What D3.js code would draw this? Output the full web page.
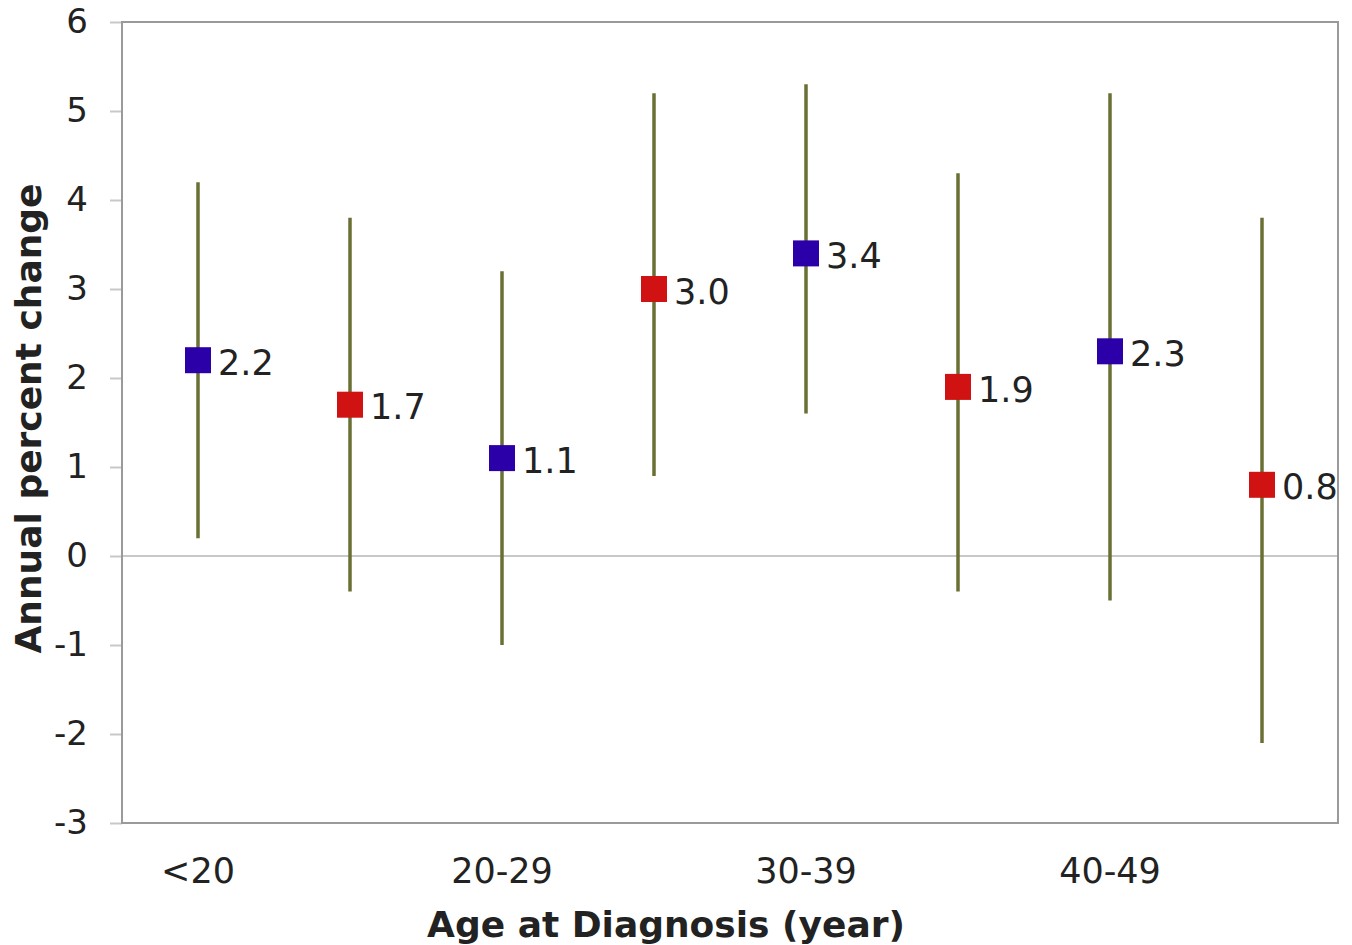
<!DOCTYPE html>
<html>
<head>
<meta charset="utf-8">
<script src="https://cdn.jsdelivr.net/npm/d3@7"></script>
<style>
  body { margin: 0; background: #fff; }
  text { font-family: "DejaVu Sans", Verdana, sans-serif; fill: #222; }
</style>
</head>
<body>
<div id="chart"></div>
<script>
// data
const slots = ["<20 a", "<20 b", "20-29 a", "20-29 b", "30-39 a", "30-39 b", "40-49 a", "40-49 b"];
const groupLabels = ["<20", "", "20-29", "", "30-39", "", "40-49", ""];
const estimates = [2.2, 1.7, 1.1, 3.0, 3.4, 1.9, 2.3, 0.8];
const lower = [0.2, -0.4, -1.0, 0.9, 1.6, -0.4, -0.5, -2.1];
const upper = [4.2, 3.8, 3.2, 5.2, 5.3, 4.3, 5.2, 3.8];
const series = ["a", "b", "a", "b", "a", "b", "a", "b"];
const yTicks = [-3, -2, -1, 0, 1, 2, 3, 4, 5, 6];

const data = slots.map((s, i) => ({
  slot: s, label: groupLabels[i], est: estimates[i], lo: lower[i], hi: upper[i], ser: series[i]
}));

const colors = { a: "#2c00a8", b: "#d01212" };

const W = 1352, H = 945;
const margin = { top: 22, right: 14, bottom: 122, left: 122 };
const width = W - margin.left - margin.right,
      height = H - margin.top - margin.bottom;

const svg = d3.select("#chart").append("svg")
    .attr("width", W).attr("height", H);
const g = svg.append("g").attr("transform", `translate(${margin.left},${margin.top})`);

const x = d3.scaleBand().domain(slots).range([0, width]);
const y = d3.scaleLinear().domain([-3, 6]).range([height, 0]);

// zero line
g.append("line")
    .attr("x1", 0).attr("x2", width)
    .attr("y1", y(0)).attr("y2", y(0))
    .attr("stroke", "#c8c8c8").attr("stroke-width", 2);

// y axis ticks + labels (plain hyphen for minus, like the original)
const yAxis = g.append("g")
    .call(d3.axisLeft(y).tickValues(yTicks).tickSize(12).tickPadding(22).tickFormat(d => String(d)));
yAxis.select(".domain").remove();
yAxis.selectAll(".tick line").attr("stroke", "#c8c8c8").attr("stroke-width", 2);
yAxis.selectAll(".tick text")
    .style("font-size", "34px")
    .style("font-family", "'DejaVu Sans', Verdana, sans-serif")
    .attr("fill", "#222");

// frame
g.append("rect")
    .attr("x", 0).attr("y", 0).attr("width", width).attr("height", height)
    .attr("fill", "none").attr("stroke", "#9a9a9a").attr("stroke-width", 2);

// x labels (only first of each pair)
g.append("g").selectAll("text")
  .data(data.filter(d => d.label))
  .join("text")
    .attr("x", d => x(d.slot) + x.bandwidth() / 2)
    .attr("y", height + 60)
    .attr("text-anchor", "middle")
    .style("font-size", "35px")
    .text(d => d.label);

// error bars
g.append("g").selectAll("line")
  .data(data)
  .join("line")
    .attr("x1", d => x(d.slot) + x.bandwidth() / 2)
    .attr("x2", d => x(d.slot) + x.bandwidth() / 2)
    .attr("y1", d => y(d.lo))
    .attr("y2", d => y(d.hi))
    .attr("stroke", "#6a6f34")
    .attr("stroke-width", 3.5);

// markers
const ms = 26;
g.append("g").selectAll("rect")
  .data(data)
  .join("rect")
    .attr("x", d => x(d.slot) + x.bandwidth() / 2 - ms / 2)
    .attr("y", d => y(d.est) - ms / 2)
    .attr("width", ms).attr("height", ms)
    .attr("fill", d => colors[d.ser]);

// value labels
g.append("g").selectAll("text")
  .data(data)
  .join("text")
    .attr("x", d => x(d.slot) + x.bandwidth() / 2 + 20)
    .attr("y", d => y(d.est) + 2)
    .attr("dy", "0.36em")
    .style("font-size", "35px")
    .text(d => d3.format(".1f")(d.est));

// axis titles
svg.append("text")
    .attr("x", 666)
    .attr("y", H - 8)
    .attr("text-anchor", "middle")
    .style("font-size", "36px")
    .style("font-weight", "bold")
    .text("Age at Diagnosis (year)");

svg.append("text")
    .attr("transform", `translate(41,${margin.top + height / 2 - 4}) rotate(-90)`)
    .attr("text-anchor", "middle")
    .style("font-size", "36px")
    .style("font-weight", "bold")
    .text("Annual percent change");
</script>
</body>
</html>
